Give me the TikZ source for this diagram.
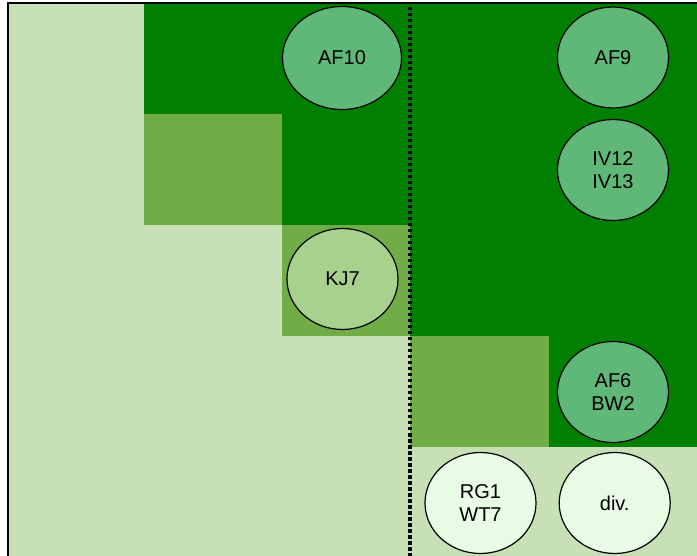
\documentclass[tikz,border=0pt]{standalone}
\usepackage{fontspec}
\setmainfont{Liberation Sans}
\usetikzlibrary{shapes.geometric,positioning}
\definecolor{PaleGreen}{HTML}{C7E0B5}
\definecolor{DarkGreen}{HTML}{007F00}
\definecolor{MidGreen}{HTML}{70AD47}
\definecolor{BlobGreen}{HTML}{60B878}
\definecolor{SageGreen}{HTML}{A9D18E}
\definecolor{MintWhite}{HTML}{E8FBE4}

\begin{document}
\begin{tikzpicture}[x=1pt,y=-1pt,
  blob/.style={ellipse,draw=black,line width=1.2pt,minimum width=111pt,minimum height=101pt,inner sep=0pt,align=center,font=\fontsize{20}{23}\selectfont}]
  \useasboundingbox (0,0) rectangle (697,556);
  % cells
  \fill[PaleGreen] (8,3) rectangle (697,556);
  \fill[DarkGreen] (144,3) rectangle (697,114);
  \fill[DarkGreen] (282,114) rectangle (697,225);
  \fill[DarkGreen] (409.5,225) rectangle (697,336);
  \fill[DarkGreen] (549,336) rectangle (697,447);
  \fill[MidGreen] (144,114) rectangle (282,225);
  \fill[MidGreen] (282,225) rectangle (409.5,336);
  \fill[MidGreen] (409.5,336) rectangle (549,447);
  % frame and divider
  \draw[line width=2pt] (8.2,556) -- (8.2,3.2) -- (697,3.2);
  \draw[line width=4pt,dash pattern=on 3.5pt off 2.5pt] (409.5,7) -- (409.5,556);
  % groups
  \node[blob,fill=BlobGreen,minimum width=119pt,minimum height=103pt] (af10) at (342,58) {AF10};
  \node[blob,fill=BlobGreen] (af9) at (613,57.5) {AF9};
  \node[blob,fill=BlobGreen] (iv) at (613,170) {IV12\\IV13};
  \node[blob,fill=SageGreen] (kj7) at (342.5,279) {KJ7};
  \node[blob,fill=BlobGreen] (af6) at (613,392) {AF6\\BW2};
  \node[blob,fill=MintWhite] (rg) at (480.5,503) {RG1\\WT7};
  \node[blob,fill=MintWhite,right=22pt of rg] (div) {div.};
\end{tikzpicture}
\end{document}
